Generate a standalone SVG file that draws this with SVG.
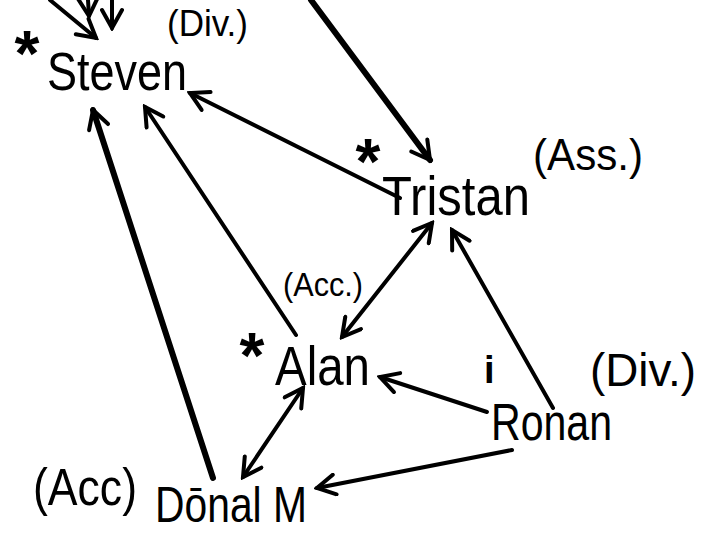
<svg xmlns="http://www.w3.org/2000/svg" width="711" height="534" viewBox="0 0 711 534">
<defs>
<marker id="ah" viewBox="0 0 24 24" refX="21" refY="12" markerWidth="24" markerHeight="24" markerUnits="userSpaceOnUse" orient="auto-start-reverse">
<path d="M3,2 L21,12 L3,22" fill="none" stroke="#000" stroke-width="4" stroke-linecap="round" stroke-linejoin="miter"/>
</marker>
</defs>
<style>
.t{font-family:"Liberation Sans","DejaVu Sans",sans-serif;fill:#000}
.s{font-family:"Liberation Sans","DejaVu Sans",sans-serif;font-size:64px;font-weight:bold;text-anchor:middle;fill:#000}
.c{stroke:#000;stroke-width:4;fill:none;stroke-linecap:round}
.thick{stroke-width:6}
.one{marker-end:url(#ah)}
.two{marker-start:url(#ah);marker-end:url(#ah)}
</style>
<rect width="711" height="534" fill="#fff"/>
<g id="connectors">
<line class="c one" x1="50" y1="0" x2="96" y2="38"/>
<line class="c one" x1="88" y1="0" x2="89" y2="16"/>
<line class="c one" x1="112" y1="0" x2="112" y2="28"/>
<line class="c one thick" x1="311" y1="0" x2="430" y2="160"/>
<line class="c one" x1="400" y1="198" x2="190" y2="93"/>
<line class="c one" x1="296" y1="335" x2="145" y2="107"/>
<line class="c one thick" x1="213" y1="478" x2="93" y2="110"/>
<line class="c two" x1="432" y1="223" x2="342" y2="337"/>
<line class="c one" x1="553" y1="408" x2="452" y2="230"/>
<line class="c one" x1="487" y1="412" x2="380" y2="377"/>
<line class="c two" x1="303" y1="388" x2="243" y2="477"/>
<line class="c one" x1="512" y1="450" x2="317" y2="488"/>
</g>
<g id="steven">
<text class="s" x="27" y="76">*</text>
<text class="t" x="47" y="90" font-size="54" textLength="140" lengthAdjust="spacingAndGlyphs">Steven</text>
<text class="t" x="167" y="36" font-size="36" textLength="81" lengthAdjust="spacingAndGlyphs">(Div.)</text>
</g>
<g id="tristan">
<text class="s" x="368" y="184">*</text>
<text class="t" x="382" y="215" font-size="56" textLength="148" lengthAdjust="spacingAndGlyphs">Tristan</text>
<text class="t" x="533" y="170" font-size="44" textLength="110" lengthAdjust="spacingAndGlyphs">(Ass.)</text>
</g>
<g id="alan">
<text class="t" x="283" y="296" font-size="34" textLength="80" lengthAdjust="spacingAndGlyphs">(Acc.)</text>
<text class="s" x="252" y="378">*</text>
<text class="t" x="275" y="385" font-size="56" textLength="95" lengthAdjust="spacingAndGlyphs">Alan</text>
</g>
<g id="ronan">
<text class="t" x="484" y="383" font-size="38" font-weight="bold">i</text>
<text class="t" x="590" y="386" font-size="46" textLength="106" lengthAdjust="spacingAndGlyphs">(Div.)</text>
<text class="t" x="491" y="440" font-size="52" textLength="121" lengthAdjust="spacingAndGlyphs">Ronan</text>
</g>
<g id="donal">
<text class="t" x="33" y="505" font-size="52" textLength="104" lengthAdjust="spacingAndGlyphs">(Acc)</text>
<text class="t" x="155" y="522" font-size="50" textLength="152" lengthAdjust="spacingAndGlyphs">Dōnal M</text>
</g>
</svg>
